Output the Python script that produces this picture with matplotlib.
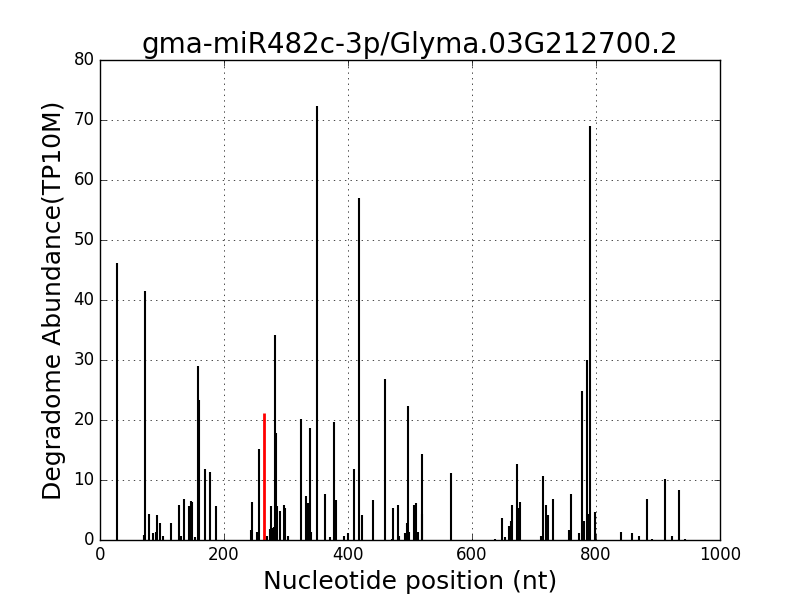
import numpy as np
import matplotlib
matplotlib.use("Agg")
import matplotlib.pyplot as plt

plt.style.use("classic")

# degradome peaks: position (nt) and abundance (TP10M)
positions = [28, 71.5, 73, 79.5, 86, 91, 92.4, 97, 102, 115, 127.4, 131, 136, 144, 147, 149, 154,
             157.6, 160, 169, 177, 187.6, 244, 245.6, 253.7, 257, 269, 274.7, 276.3, 278.5, 280,
             281.8, 282.7, 284.4, 286, 290.8, 297.3, 298.9, 303.7, 324.7, 331.8, 336, 339.2,
             340.8, 349.5, 363.4, 371.5, 377.9, 381, 394, 400.5, 410, 418.2, 423, 440.8, 460.2,
             470.5, 473, 481, 482.7, 492.4, 495.6, 497.3, 498.9, 507, 510.2, 513.4, 518.9, 519.8,
             566.6, 637, 649, 653.7, 660, 663.4, 665, 673, 676, 678, 711.8, 715, 720, 723, 731,
             757, 760, 773, 778, 781, 786, 787.6, 789, 790.8, 799, 839.8, 858.5, 870, 882.7,
             890.8, 911.8, 923, 934.4, 944]
abundance = [46.2, 0.8, 41.5, 4.4, 1.1, 1.4, 4.1, 2.9, 0.6, 2.9, 5.9, 0.7, 6.9, 5.6, 6.5, 6.4, 0.5,
             29.0, 23.4, 11.8, 11.4, 5.6, 1.7, 6.4, 1.4, 15.2, 0.6, 1.8, 5.6, 2.0, 2.2,
             34.1, 2.0, 17.8, 5.6, 4.9, 5.8, 5.3, 0.7, 20.1, 7.4, 6.1, 18.6,
             1.4, 72.3, 7.7, 0.5, 19.6, 6.7, 0.7, 1.1, 11.8, 57.0, 4.1, 6.6, 26.9,
             0.2, 5.4, 5.9, 0.6, 1.1, 2.9, 22.4, 1.4, 5.9, 6.1, 1.4, 4.4, 14.3,
             11.1, 0.2, 3.6, 0.5, 2.4, 3.1, 5.9, 12.6, 5.4, 6.4, 0.7, 10.6, 5.9, 4.1, 6.9,
             1.6, 7.6, 1.1, 24.9, 3.1, 30.0, 4.3, 1.1, 69.0, 4.6, 1.4, 1.1, 0.6, 6.9,
             0.2, 10.1, 0.7, 8.4, 0.2]

# miRNA cleavage site
target_pos = 264
target_val = 21.1

fig = plt.figure(figsize=(8, 6), dpi=100)
ax = fig.add_axes([0.125, 0.1, 0.775, 0.8])

ax.vlines(positions, 0, abundance, colors="black", linewidth=1.5)
ax.vlines([target_pos], 0, [target_val], colors="red", linewidth=2)

ax.set_xlim(0, 1000)
ax.set_ylim(0, 80)
ax.grid(True)
ax.set_title("gma-miR482c-3p/Glyma.03G212700.2", fontsize=20)
ax.set_xlabel("Nucleotide position (nt)", fontsize=18)
ax.set_ylabel("Degradome Abundance(TP10M)", fontsize=18)

fig.savefig("out.png", dpi=100)
